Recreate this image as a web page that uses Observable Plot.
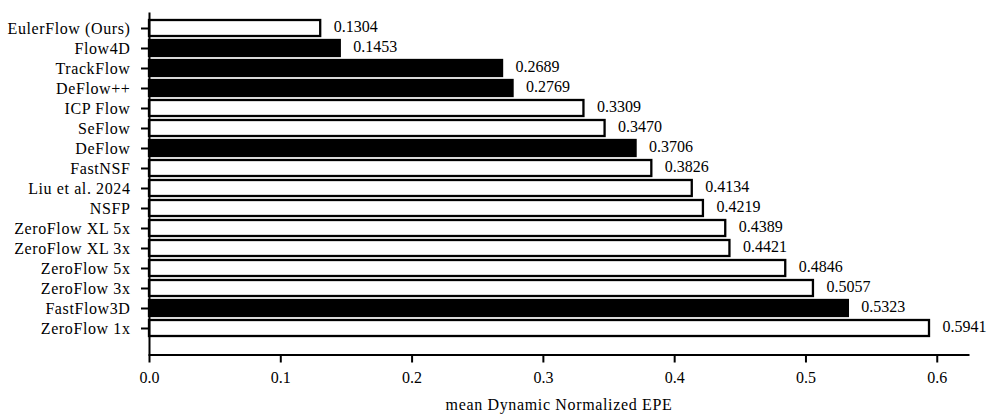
<!DOCTYPE html>
<html>
<head>
<meta charset="utf-8">
<script src="https://cdn.jsdelivr.net/npm/d3@7"></script>
<script src="https://cdn.jsdelivr.net/npm/@observablehq/plot@0.6"></script>
<style>
  html, body { margin: 0; padding: 0; background: #fff; }
  #chart svg { display: block; }
  #chart g[aria-label="y-axis tick label"] text { letter-spacing: 0.6px; }
  #chart g[aria-label="x-axis label"] text { letter-spacing: 0.65px; }
</style>
</head>
<body>
<div id="chart"></div>
<script>
const methods = ["EulerFlow (Ours)", "Flow4D", "TrackFlow", "DeFlow++", "ICP Flow", "SeFlow", "DeFlow", "FastNSF", "Liu et al. 2024", "NSFP", "ZeroFlow XL 5x", "ZeroFlow XL 3x", "ZeroFlow 5x", "ZeroFlow 3x", "FastFlow3D", "ZeroFlow 1x"];
const epe = [0.1304, 0.1453, 0.2689, 0.2769, 0.3309, 0.3470, 0.3706, 0.3826, 0.4134, 0.4219, 0.4389, 0.4421, 0.4846, 0.5057, 0.5323, 0.5941];
const filled = [false, true, true, true, false, false, true, false, false, false, false, false, false, false, true, false];
const xTicks = [0.0, 0.1, 0.2, 0.3, 0.4, 0.5, 0.6];

const data = methods.map((m, i) => ({method: m, value: epe[i], filled: filled[i]}));

const chart = Plot.plot({
  width: 987,
  height: 416,
  marginLeft: 149,
  marginRight: 19,
  marginTop: 12.5,
  marginBottom: 61.5,
  style: {fontFamily: "'Liberation Serif', serif", fontSize: "16px", color: "#000", background: "#fff"},
  x: {domain: [0, 0.6238]},
  y: {domain: methods, paddingInner: 0.2, paddingOuter: 0.525, align: 0.286},
  marks: [
    Plot.barX(data, {
      x: "value", y: "method",
      fill: d => d.filled ? "#000" : "#fff",
      stroke: "#000", strokeWidth: 2.3
    }),
    Plot.text(data, {
      x: "value", y: "method", text: d => d.value.toFixed(4),
      textAnchor: "start", dx: 13, dy: -1.5, fill: "#000", fontSize: 16
    }),
    Plot.ruleX([0], {stroke: "#000", strokeWidth: 2}),
    Plot.frame({anchor: "bottom", stroke: "#000", strokeWidth: 2}),
    Plot.axisY({tickSize: 8, tickPadding: 11, fontSize: 16, label: null, strokeWidth: 2}),
    Plot.axisX({ticks: xTicks, tickFormat: d => d.toFixed(1), tickSize: 8, tickPadding: 9, fontSize: 16, strokeWidth: 2,
      label: "mean Dynamic Normalized EPE", labelAnchor: "center", labelArrow: "none", labelOffset: 55})
  ]
});
document.getElementById("chart").appendChild(chart);
</script>
</body>
</html>
